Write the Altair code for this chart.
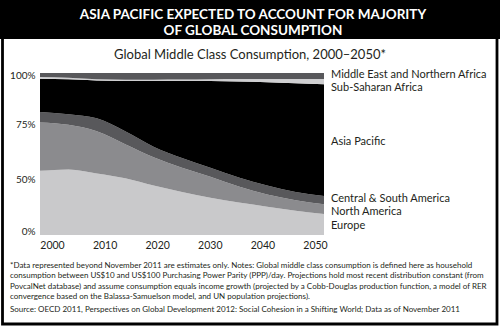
import altair as alt
import pandas as pd

# ---- data (shares of global middle class consumption, %) ----
years = [2000, 2005, 2010, 2015, 2020, 2025, 2030, 2035, 2040, 2045, 2050]
europe = [39.6, 40.5, 38.0, 35.0, 30.5, 26.5, 23.0, 20.0, 17.5, 15.0, 13.0]
north_america = [29.9, 27.5, 26.0, 21.0, 17.5, 15.0, 13.0, 10.0, 7.5, 6.5, 6.0]
central_south_america = [6.4, 6.5, 8.0, 8.0, 6.5, 6.0, 5.5, 5.5, 5.5, 5.0, 5.0]
asia_pacific = [20.5, 21.6, 23.4, 31.1, 40.6, 47.5, 53.5, 59.2, 63.8, 67.2, 69.0]
sub_saharan_africa = [1.1, 0.9, 0.8, 0.8, 0.8, 1.0, 1.2, 1.6, 2.0, 2.6, 3.3]
middle_east_n_africa = [2.5, 3.0, 3.8, 4.1, 4.1, 4.0, 3.8, 3.7, 3.7, 3.7, 3.7]

regions = ["Europe", "North America", "Central & South America", "Asia Pacific",
           "Sub-Saharan Africa", "Middle East and Northern Africa"]
series = [europe, north_america, central_south_america, asia_pacific,
          sub_saharan_africa, middle_east_n_africa]
colors = ["#c9c9cb", "#8b8b8e", "#58585b", "#000000", "#cfcfd1", "#58585b"]

x_ticks = [2000, 2010, 2020, 2030, 2040, 2050]
y_tick_text = ["0%", "50%", "75%", "100%"]
y_tick_pos = [2, 34.5, 68.5, 98.5]

title_lines = ["ASIA PACIFIC EXPECTED TO ACCOUNT FOR MAJORITY", "OF GLOBAL CONSUMPTION"]
subtitle = "Global Middle Class Consumption, 2000\u20132050*"
notes = [
    "*Data represented beyond November 2011 are estimates only. Notes: Global middle class consumption is defined here as household",
    "consumption between US$10 and US$100 Purchasing Power Parity (PPP)/day. Projections hold most recent distribution constant (from",
    "PovcalNet database) and assume consumption equals income growth (projected by a Cobb-Douglas production function, a model of RER",
    "convergence based on the Balassa-Samuelson model, and UN population projections).",
]
source = "Source: OECD 2011, Perspectives on Global Development 2012: Social Cohesion in a Shifting World; Data as of November 2011"

FONT = "Lato"
rows = []
for i, (r, vals) in enumerate(zip(regions, series)):
    for y, v in zip(years, vals):
        rows.append({"year": y, "region": r, "share": v, "order": i})
df = pd.DataFrame(rows)

# label positions: middle of each band at the last year
last = [s[-1] for s in series]
cum = 0
lab_rows = []
for r, v in zip(regions, last):
    lab_rows.append({"region": r, "mid": cum + v / 2})
    cum += v
labels_df = pd.DataFrame(lab_rows)
nudge = {"Middle East and Northern Africa": -1, "Sub-Saharan Africa": 6, "Asia Pacific": 1.5,
         "Central & South America": -1, "North America": 3, "Europe": 1.5}

ylabel_expr = " : ".join(
    f"datum.value == {p} ? '{t}'" for p, t in zip(y_tick_pos[:-1], y_tick_text[:-1])
) + f" : '{y_tick_text[-1]}'"

xscale = alt.Scale(domain=[2000, 2050], nice=False, zero=False)
yscale = alt.Scale(domain=[0, 100], nice=False)

area = alt.Chart(df).mark_area(interpolate="monotone").encode(
    x=alt.X("year:Q", scale=xscale,
            axis=alt.Axis(values=x_ticks, format="d", title=None, ticks=False, domain=False,
                          grid=False, labelFont=FONT, labelFontSize=10.5, labelColor="#231f20",
                          labelPadding=5, labelFlush=False,
                          labelOffset={"expr": "12 - (datum.value - 2000) * 0.42"})),
    y=alt.Y("share:Q", stack="zero", scale=yscale,
            axis=alt.Axis(values=y_tick_pos, labelExpr=ylabel_expr, title=None, ticks=False,
                          domain=False, grid=False, labelFont=FONT, labelFontSize=10,
                          labelColor="#231f20", labelPadding=5, labelFlush=False)),
    color=alt.Color("region:N", scale=alt.Scale(domain=regions, range=colors), legend=None),
    order=alt.Order("order:Q"),
)

label_layers = []
for r in regions:
    label_layers.append(
        alt.Chart(labels_df[labels_df.region == r]).mark_text(
            align="left", baseline="middle", font=FONT, fontSize=11, color="#231f20",
            dy=nudge[r]
        ).encode(x=alt.value(291), y=alt.Y("mid:Q", scale=yscale), text="region:N")
    )

one = pd.DataFrame({"k": [0]})
banner = alt.Chart(one).mark_rect(color="black").encode(
    x=alt.value(-40), x2=alt.value(460), y=alt.value(-73), y2=alt.value(-34))
border = alt.Chart(one).mark_rect(fill=None, stroke="black", strokeWidth=2.8).encode(
    x=alt.value(-37.5), x2=alt.value(457), y=alt.value(-73), y2=alt.value(251))

title_layers = [
    alt.Chart(one).mark_text(font=FONT, fontSize=13.5, fontWeight="bold", color="white",
                             align="center", baseline="middle").encode(
        x=alt.value(213), y=alt.value(yy), text=alt.value(t))
    for t, yy in zip(title_lines, [-58, -42])
]
sub = alt.Chart(one).mark_text(font=FONT, fontSize=13, color="#231f20",
                               align="center", baseline="middle").encode(
    x=alt.value(210), y=alt.value(-18), text=alt.value(subtitle))

note_layers = [
    alt.Chart(one).mark_text(font=FONT, fontSize=8, color="#231f20",
                             align="left", baseline="middle").encode(
        x=alt.value(-30), y=alt.value(yy), text=alt.value(t))
    for t, yy in zip(notes + [source], [192.5, 203, 213.5, 224, 236.5])
]

chart = alt.layer(
    banner, *title_layers, sub, area, *label_layers, *note_layers, border
).properties(
    width=284, height=162,
    padding={"left": 40, "top": 73, "right": 176, "bottom": 93},
    autosize=alt.AutoSizeParams(type="none"),
    background="white",
).configure_view(stroke=None)

chart.save("out.html", embed_options={"renderer": "svg", "actions": False})
